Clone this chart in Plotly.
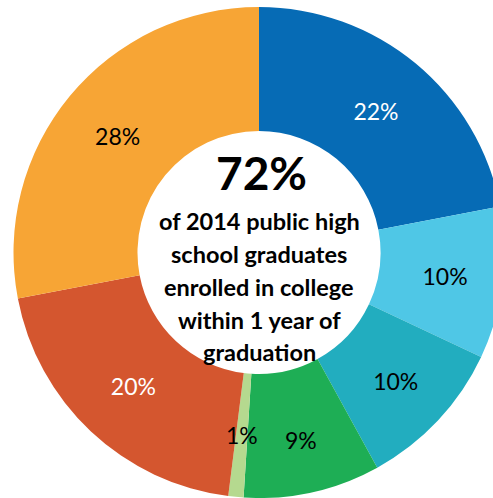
import math
import plotly.graph_objects as go

# Share of 2014 public high school graduates by postsecondary outcome
categories = ["Segment A", "Segment B", "Segment C", "Segment D",
              "Segment E", "Segment F", "Segment G"]
shares = [22, 10, 10, 9, 1, 20, 28]
slice_colors = ["#066BB5", "#4FC7E6", "#22ADBF", "#1EAE55",
                "#B5D98F", "#D4562F", "#F7A535"]
label_colors = ["white", "black", "black", "black", "black", "white", "black"]

headline = "72%"
caption_lines = ["of 2014 public high", "school graduates",
                 "enrolled in college", "within 1 year of", "graduation"]

W, H = 505, 498
ML, MT = 13, 7
PW, PH = W - ML, H - MT
HOLE = 0.495
LABEL_SIZE = 23


def px_to_paper(x, y):
    return (x - ML) / PW, 1 - (y - MT) / PH


# slices too thin to hold their label get it drawn as an annotation instead
thin = [v < 3 for v in shares]
slice_text = ["" if t else f"{v}%" for v, t in zip(shares, thin)]

fig = go.Figure(go.Pie(
    labels=categories,
    values=shares,
    text=slice_text,
    hole=HOLE,
    sort=False,
    direction="clockwise",
    rotation=0,
    marker=dict(colors=slice_colors, line=dict(width=0)),
    texttemplate="%{text}",
    textposition="inside",
    insidetextorientation="horizontal",
    insidetextfont=dict(family="Lato", size=LABEL_SIZE, color=label_colors),
    hoverinfo="label+value",
    showlegend=False,
))

annotations = []

# labels for thin slices, placed at the slice's mid-angle halfway across the ring
cx_px, cy_px = ML + PW / 2, MT + PH / 2
r_out = min(PW, PH) / 2
r_mid = r_out * (1 + HOLE) / 2
total = sum(shares)
cum = 0
for v, t, col in zip(shares, thin, label_colors):
    mid = (cum + v / 2) / total * 2 * math.pi
    cum += v
    if not t:
        continue
    lx = cx_px + r_mid * math.sin(mid)
    ly = cy_px - r_mid * math.cos(mid)
    ax, ay = px_to_paper(lx, ly)
    annotations.append(dict(text=f"{v}%", x=ax, y=ay, xref="paper", yref="paper",
                            showarrow=False, xanchor="center", yanchor="middle",
                            font=dict(family="Lato", size=LABEL_SIZE, color=col)))

hx, hy = px_to_paper(261, 172)
annotations.append(dict(text=f"<b>{headline}</b>", x=hx, y=hy, xref="paper", yref="paper",
                        showarrow=False, xanchor="center", yanchor="middle",
                        font=dict(family="Lato", size=46, color="black")))
line_y = [221, 254, 287, 320, 352]
for txt, ly in zip(caption_lines, line_y):
    tx, ty = px_to_paper(259, ly)
    annotations.append(dict(text=f"<b>{txt}</b>", x=tx, y=ty, xref="paper", yref="paper",
                            showarrow=False, xanchor="center", yanchor="middle",
                            font=dict(family="Lato", size=23.5, color="black")))

fig.update_layout(
    width=W, height=H,
    margin=dict(l=ML, r=0, t=MT, b=0, pad=0),
    paper_bgcolor="white",
    plot_bgcolor="white",
    uniformtext=dict(minsize=LABEL_SIZE, mode="show"),
    annotations=annotations,
)

fig.write_html(
    "out.html",
    post_script="document.documentElement.style.overflow='hidden';document.body.style.overflow='hidden';",
)
